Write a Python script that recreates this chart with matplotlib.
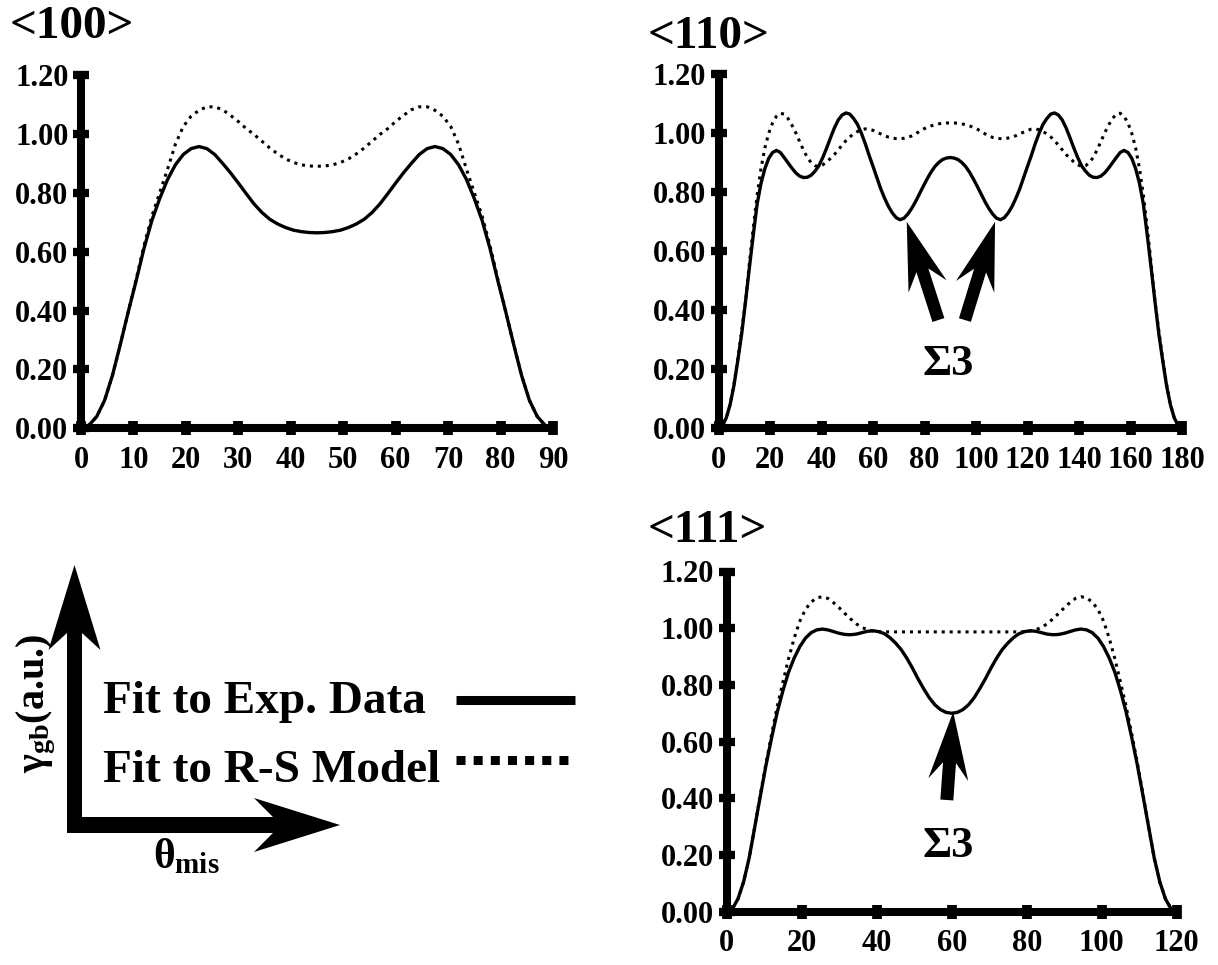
import matplotlib
matplotlib.use("Agg")
import matplotlib.pyplot as plt
from matplotlib.patches import FancyArrow
from matplotlib.transforms import IdentityTransform
from matplotlib.lines import Line2D
from matplotlib.ticker import FormatStrFormatter

plt.rcParams["font.family"] = ["Liberation Serif", "DejaVu Serif"]
plt.rcParams["font.weight"] = "bold"
plt.rcParams["mathtext.fontset"] = "custom"
plt.rcParams["mathtext.rm"] = "Liberation Serif"
plt.rcParams["mathtext.it"] = "Liberation Serif"
plt.rcParams["mathtext.bf"] = "Liberation Serif:bold"

# ---------------- data ----------------
theta_100 = [0, 1.5, 3, 4.5, 6, 7.5, 9, 10.5, 12, 13.5, 15, 16.5, 18, 19.5, 21, 22.5,
             24, 25.5, 27, 28.5, 30, 31.5, 33, 34.5, 36, 37.5, 39, 40.5, 42, 43.5, 45,
             46.5, 48, 49.5, 51, 52.5, 54, 55.5, 57, 58.5, 60, 61.5, 63, 64.5, 66, 67.5,
             69, 70.5, 72, 73.5, 75, 76.5, 78, 79.5, 81, 82.5, 84, 85.5, 87, 88.5, 90]
exp_100 = [0.000, 0.010, 0.040, 0.095, 0.180, 0.285, 0.395, 0.500, 0.610, 0.705,
           0.780, 0.845, 0.895, 0.930, 0.950, 0.957, 0.950, 0.930, 0.900, 0.868,
           0.833, 0.797, 0.762, 0.733, 0.710, 0.694, 0.682, 0.673, 0.668, 0.665,
           0.664,
           0.665, 0.668, 0.673, 0.682, 0.694, 0.710, 0.733, 0.762, 0.797, 0.833,
           0.868, 0.900, 0.930, 0.950, 0.957, 0.950, 0.930, 0.895, 0.845, 0.780,
           0.705, 0.610, 0.500, 0.395, 0.285, 0.180, 0.095, 0.040, 0.010, 0.000]
rs_100 = [0.000, 0.010, 0.040, 0.095, 0.180, 0.285, 0.395, 0.505, 0.620, 0.720,
          0.800, 0.880, 0.965, 1.025, 1.060, 1.080, 1.092, 1.092, 1.082, 1.063,
          1.042, 1.018, 0.998, 0.975, 0.952, 0.932, 0.915, 0.903, 0.895, 0.891,
          0.890,
          0.891, 0.895, 0.903, 0.915, 0.932, 0.952, 0.975, 0.998, 1.018, 1.042,
          1.063, 1.082, 1.092, 1.092, 1.080, 1.060, 1.025, 0.965, 0.880, 0.800,
          0.720, 0.620, 0.505, 0.395, 0.285, 0.180, 0.095, 0.040, 0.010, 0.000]

theta_110 = [0, 1.5, 3, 4.5, 6, 7.5, 9, 10.5, 12, 13.5, 15, 16.5, 18, 19.5, 21, 22.5,
             24, 25.5, 27, 28.5, 30, 31.5, 33, 34.5, 36, 37.5, 39, 40.5, 42, 43.5, 45,
             46.5, 48, 49.5, 51, 52.5, 54, 55.5, 57, 58.5, 60, 61.5, 63, 64.5, 66, 67.5,
             69, 70.5, 72, 73.5, 75, 76.5, 78, 79.5, 81, 82.5, 84, 85.5, 87, 88.5, 90,
             91.5, 93, 94.5, 96, 97.5, 99, 100.5, 102, 103.5, 105, 106.5, 108, 109.5,
             111, 112.5, 114, 115.5, 117, 118.5, 120, 121.5, 123, 124.5, 126, 127.5,
             129, 130.5, 132, 133.5, 135, 136.5, 138, 139.5, 141, 142.5, 144, 145.5,
             147, 148.5, 150, 151.5, 153, 154.5, 156, 157.5, 159, 160.5, 162, 163.5,
             165, 166.5, 168, 169.5, 171, 172.5, 174, 175.5, 177, 178.5, 180]
exp_110 = [0.000, 0.010, 0.035, 0.080, 0.145, 0.230, 0.320, 0.430, 0.545, 0.655,
           0.760, 0.830, 0.880, 0.915, 0.935, 0.942, 0.935, 0.918, 0.900, 0.882,
           0.866, 0.855, 0.850, 0.851, 0.858, 0.872, 0.890, 0.918, 0.950, 0.985,
           1.018, 1.045, 1.062, 1.069, 1.065, 1.050, 1.030, 1.000, 0.965, 0.925,
           0.888, 0.850, 0.812, 0.780, 0.752, 0.730, 0.714, 0.707, 0.712, 0.726,
           0.745, 0.768, 0.794, 0.820, 0.845, 0.868, 0.887, 0.901, 0.911, 0.916,
           0.918,
           0.916, 0.911, 0.901, 0.887, 0.868, 0.845, 0.820, 0.794, 0.768, 0.745,
           0.726, 0.712, 0.707, 0.714, 0.730, 0.752, 0.780, 0.812, 0.850, 0.888,
           0.925, 0.965, 1.000, 1.030, 1.050, 1.065, 1.069, 1.062, 1.045, 1.018,
           0.985, 0.950, 0.918, 0.890, 0.872, 0.858, 0.851, 0.850, 0.855, 0.866,
           0.882, 0.900, 0.918, 0.935, 0.942, 0.935, 0.915, 0.880, 0.830, 0.760,
           0.655, 0.545, 0.430, 0.320, 0.230, 0.145, 0.080, 0.035, 0.010, 0.000]
rs_110 = [0.000, 0.010, 0.035, 0.080, 0.150, 0.235, 0.330, 0.430, 0.560, 0.680,
          0.790, 0.880, 0.950, 1.000, 1.035, 1.058, 1.068, 1.065, 1.050, 1.028,
          1.002, 0.972, 0.943, 0.918, 0.900, 0.890, 0.888, 0.893, 0.903, 0.915,
          0.928, 0.944, 0.960, 0.975, 0.988, 0.998, 1.006, 1.012, 1.015, 1.014,
          1.010, 1.004, 0.998, 0.992, 0.987, 0.984, 0.982, 0.982, 0.983, 0.986,
          0.991, 0.998, 1.006, 1.014, 1.020, 1.025, 1.029, 1.032, 1.034, 1.035,
          1.035,
          1.035, 1.034, 1.032, 1.029, 1.025, 1.020, 1.014, 1.006, 0.998, 0.991,
          0.986, 0.983, 0.982, 0.982, 0.984, 0.987, 0.992, 0.998, 1.004, 1.010,
          1.014, 1.015, 1.012, 1.006, 0.998, 0.988, 0.975, 0.960, 0.944, 0.928,
          0.915, 0.903, 0.893, 0.888, 0.890, 0.900, 0.918, 0.943, 0.972, 1.002,
          1.028, 1.050, 1.065, 1.068, 1.058, 1.035, 1.000, 0.950, 0.880, 0.790,
          0.680, 0.560, 0.430, 0.330, 0.235, 0.150, 0.080, 0.035, 0.010, 0.000]

theta_111 = [0, 1.5, 3, 4.5, 6, 7.5, 9, 10.5, 12, 13.5, 15, 16.5, 18, 19.5, 21, 22.5,
             24, 25.5, 27, 28.5, 30, 31.5, 33, 34.5, 36, 37.5, 39, 40.5, 42, 43.5, 45,
             46.5, 48, 49.5, 51, 52.5, 54, 55.5, 57, 58.5, 60, 61.5, 63, 64.5, 66, 67.5,
             69, 70.5, 72, 73.5, 75, 76.5, 78, 79.5, 81, 82.5, 84, 85.5, 87, 88.5, 90,
             91.5, 93, 94.5, 96, 97.5, 99, 100.5, 102, 103.5, 105, 106.5, 108, 109.5,
             111, 112.5, 114, 115.5, 117, 118.5, 120]
exp_111 = [0.000, 0.010, 0.045, 0.105, 0.190, 0.300, 0.410, 0.518, 0.615, 0.705,
           0.780, 0.845, 0.895, 0.935, 0.965, 0.984, 0.994, 0.997, 0.994, 0.988,
           0.982, 0.978, 0.977, 0.979, 0.984, 0.989, 0.991, 0.988, 0.981, 0.967,
           0.948, 0.925, 0.895, 0.860, 0.822, 0.787, 0.755, 0.730, 0.713, 0.703,
           0.700,
           0.703, 0.713, 0.730, 0.755, 0.787, 0.822, 0.860, 0.895, 0.925, 0.948,
           0.967, 0.981, 0.988, 0.991, 0.989, 0.984, 0.979, 0.977, 0.978, 0.982,
           0.988, 0.994, 0.997, 0.994, 0.984, 0.965, 0.935, 0.895, 0.845, 0.780,
           0.705, 0.615, 0.518, 0.410, 0.300, 0.190, 0.105, 0.045, 0.010, 0.000]
rs_111 = [0.000, 0.010, 0.045, 0.105, 0.190, 0.300, 0.415, 0.525, 0.628, 0.725,
          0.810, 0.893, 0.965, 1.025, 1.066, 1.092, 1.107, 1.111, 1.105, 1.090,
          1.072, 1.052, 1.033, 1.016, 1.003, 0.995, 0.990, 0.988, 0.987, 0.987,
          0.987, 0.987, 0.987, 0.987, 0.987, 0.987, 0.987, 0.987, 0.987, 0.987,
          0.987,
          0.987, 0.987, 0.987, 0.987, 0.987, 0.987, 0.987, 0.987, 0.987, 0.987,
          0.987, 0.987, 0.988, 0.990, 0.995, 1.003, 1.016, 1.033, 1.052, 1.072,
          1.090, 1.105, 1.111, 1.107, 1.092, 1.066, 1.025, 0.965, 0.893, 0.810,
          0.725, 0.628, 0.525, 0.415, 0.300, 0.190, 0.105, 0.045, 0.010, 0.000]

yticks = [0.0, 0.2, 0.4, 0.6, 0.8, 1.0, 1.2]
xticks_100 = [0, 10, 20, 30, 40, 50, 60, 70, 80, 90]
xticks_110 = [0, 20, 40, 60, 80, 100, 120, 140, 160, 180]
xticks_111 = [0, 20, 40, 60, 80, 100, 120]
titles = ["<100>", "<110>", "<111>"]
legend_labels = ["Fit to Exp. Data", "Fit to R-S Model"]
sigma_label = "\u03a33"

# ---------------- figure ----------------
W, H = 1218, 965
fig = plt.figure(figsize=(W / 100, H / 100), dpi=100)

DOT = (0, (1, 1.6))
TICK_FS = 22


def make_axes(l, t, r, b, xmax, xticks, fs=TICK_FS):
    ax = fig.add_axes([l / W, 1 - b / H, (r - l) / W, (b - t) / H])
    ax.set_xlim(0, xmax)
    ax.set_ylim(0, 1.2)
    for s in ("top", "right"):
        ax.spines[s].set_visible(False)
    for s in ("left", "bottom"):
        ax.spines[s].set_linewidth(5.8)
    ax.set_xticks(xticks)
    ax.set_yticks(yticks)
    ax.yaxis.set_major_formatter(FormatStrFormatter("%.2f"))
    ax.tick_params(axis="y", direction="inout", length=12, width=6, labelsize=fs, pad=3)
    ax.tick_params(axis="x", direction="inout", length=9.5, width=7, labelsize=fs, pad=8)
    ax.patch.set_alpha(0)
    return ax


def data_arrow(ax, tail, tip, width, hw, hl, overhang=0.25):
    x0, y0 = ax.transData.transform(tail)
    x1, y1 = ax.transData.transform(tip)
    a = FancyArrow(x0, y0, x1 - x0, y1 - y0, width=width, head_width=hw,
                   head_length=hl, length_includes_head=True, overhang=overhang,
                   color="k", lw=0, transform=IdentityTransform())
    fig.add_artist(a)


def px_arrow(x0, y0, x1, y1, width, hw, hl, overhang=0.2):
    a = FancyArrow(x0, H - y0, x1 - x0, -(y1 - y0), width=width, head_width=hw,
                   head_length=hl, length_includes_head=True, overhang=overhang,
                   color="k", lw=0, transform=IdentityTransform())
    fig.add_artist(a)


# Panel <100>
ax1 = make_axes(81, 75, 553, 428.3, 90, xticks_100)
ax1.plot(theta_100, rs_100, color="k", lw=2.2, ls=DOT)
ax1.plot(theta_100, exp_100, color="k", lw=2.4)

# Panel <110>
ax2 = make_axes(718.5, 74.3, 1182, 428.3, 180, xticks_110)
ax2.plot(theta_110, rs_110, color="k", lw=2.2, ls=DOT)
ax2.plot(theta_110, exp_110, color="k", lw=2.4)
data_arrow(ax2, (85.4, 0.367), (73.1, 0.700), 12.5, 40, 68)
data_arrow(ax2, (95.7, 0.367), (107.4, 0.700), 12.5, 40, 68)
ax2.text(89.3, 0.181, sigma_label, fontsize=32, ha="center", va="baseline")

# Panel <111>
ax3 = make_axes(726.7, 571.5, 1176.7, 911.7, 120, xticks_111)
ax3.plot(theta_111, rs_111, color="k", lw=2.2, ls=DOT)
ax3.plot(theta_111, exp_111, color="k", lw=2.4)
data_arrow(ax3, (58.7, 0.394), (60.4, 0.705), 13, 40, 68)
ax3.text(59, 0.193, sigma_label, fontsize=32, ha="center", va="baseline")

# Titles
fig.text(10 / W, 1 - 38 / H, titles[0], fontsize=34, ha="left", va="baseline")
fig.text(648 / W, 1 - 48 / H, titles[1], fontsize=34, ha="left", va="baseline")
fig.text(648 / W, 1 - 542 / H, titles[2], fontsize=34, ha="left", va="baseline")

# Schematic axes (bottom-left)
px_arrow(74.5, 833, 74.5, 565, 15, 52, 85, 0.2)
px_arrow(67, 825, 340, 825, 16, 54, 86, 0.22)
fig.text(36 / W, 1 - 703 / H, r"$\gamma_{\mathbf{gb}}$(a.u.)", fontsize=29,
         rotation=90, ha="center", va="center")
fig.text(153 / W, 1 - 868 / H, r"$\theta_{\mathbf{mis}}$", fontsize=30,
         ha="left", va="baseline")

# Legend
fig.text(103 / W, 1 - 713 / H, legend_labels[0], fontsize=34, ha="left", va="baseline")
fig.text(103 / W, 1 - 782 / H, legend_labels[1], fontsize=34, ha="left", va="baseline")
fig.add_artist(Line2D([456 / W, 575 / W], [1 - 700 / H] * 2, lw=6.5, color="k",
                      solid_capstyle="butt", transform=fig.transFigure))
fig.add_artist(Line2D([456 / W, 575 / W], [1 - 760 / H] * 2, lw=6.5, color="k",
                      ls=(0, (1, 0.9)), dash_capstyle="butt", transform=fig.transFigure))

fig.savefig("out.png", dpi=100)
